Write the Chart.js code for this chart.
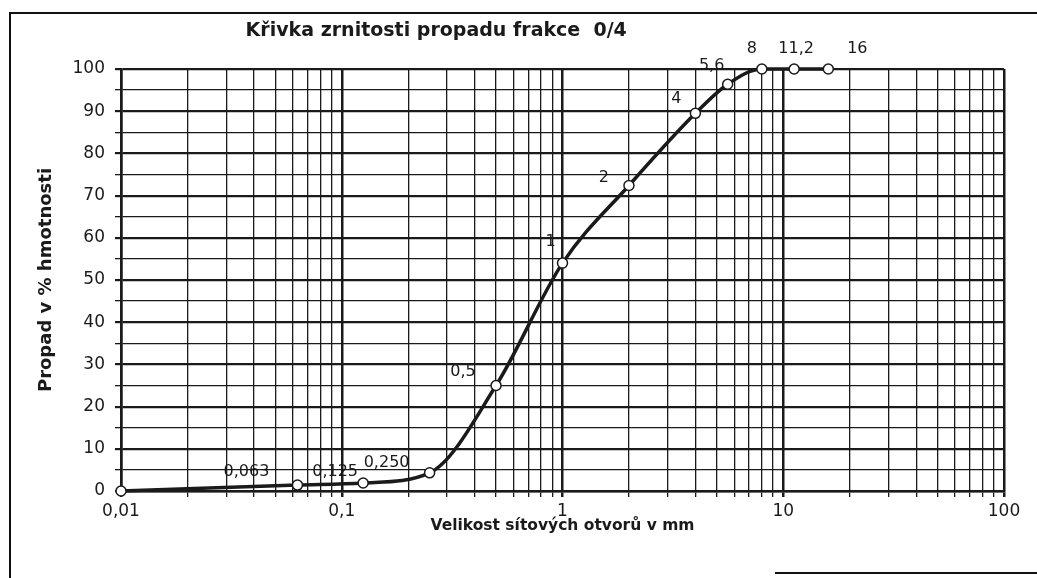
<!DOCTYPE html>
<html>
<head>
<meta charset="utf-8">
<script src="https://cdn.jsdelivr.net/npm/chart.js@4"></script>
<style>
  body { margin: 0; background: #fff; }
  #wrap { position: relative; width: 1037px; height: 578px; overflow: hidden; }
  #frame { position: absolute; left: 9px; top: 12px; width: 1040px; height: 580px; border-left: 2px solid #111; border-top: 2px solid #111; }
  #scrap { position: absolute; left: 775px; top: 572px; width: 262px; border-top: 2px solid #111; }
  canvas { position: absolute; left: 0; top: 0; }
</style>
</head>
<body>
<div id="wrap">
  <div id="frame"></div>
  <div id="scrap"></div>
  <canvas id="myChart" width="1037" height="578"></canvas>
</div>
<script>
// sieve sizes (mm) and passing percentages
const sieveSizes = [0.01, 0.063, 0.125, 0.25, 0.5, 1, 2, 4, 5.6, 8, 11.2, 16];
const passing = [0, 1.4, 1.9, 4.3, 25, 54, 72.4, 89.5, 96.4, 100, 100, 100];
const pointLabels = ["", "0,063", "0,125", "0,250", "0,5", "1", "2", "4", "5,6", "8", "11,2", "16"];
const xDecades = [0.01, 0.1, 1, 10, 100];
const xDecadeLabels = ["0,01", "0,1", "1", "10", "100"];

const fontFamily = "'DejaVu Sans', 'Liberation Sans', Arial, sans-serif";
const ink = "#1a1a1a";

// where each point label sits relative to its point (px)
const labelOffsets = [
  [0, 0], [-51, -13], [-28, -11], [-43, -10], [-33, -14], [-12, -21],
  [-25, -8], [-19, -14], [-16, -18], [-10, -20], [2, -20], [29, -20]
];

const pointLabelPlugin = {
  id: "pointLabels",
  afterDatasetsDraw(chart) {
    const ctx = chart.ctx;
    const meta = chart.getDatasetMeta(0);
    ctx.save();
    ctx.font = "16px " + fontFamily;
    ctx.fillStyle = ink;
    ctx.textAlign = "center";
    ctx.textBaseline = "middle";
    meta.data.forEach((pt, i) => {
      if (!pointLabels[i]) return;
      ctx.fillText(pointLabels[i], pt.x + labelOffsets[i][0], pt.y + labelOffsets[i][1]);
    });
    ctx.restore();
  },
};

const chartTitlePlugin = {
  id: "chartTitle",
  afterDraw(chart) {
    const ctx = chart.ctx;
    const area = chart.chartArea;
    ctx.save();
    ctx.font = "bold 19px " + fontFamily;
    ctx.fillStyle = ink;
    ctx.textAlign = "center";
    ctx.textBaseline = "middle";
    ctx.fillText("Křivka zrnitosti propadu frakce  0/4", area.left + area.width * 0.357, 31);
    ctx.restore();
  },
};

const ctx = document.getElementById("myChart");
new Chart(ctx, {
  type: "line",
  data: {
    datasets: [
      {
        label: "Propad",
        data: sieveSizes.map((s, i) => ({ x: s, y: passing[i] })),
        borderColor: ink,
        borderWidth: 3.5,
        cubicInterpolationMode: "monotone",
        pointRadius: 5,
        pointBackgroundColor: "#fff",
        pointBorderColor: ink,
        pointBorderWidth: 1.5,
        clip: false,
      },
    ],
  },
  options: {
    responsive: false,
    animation: false,
    layout: { padding: { top: 69, right: 33, left: 12, bottom: 0 } },
    plugins: {
      legend: { display: false },
      tooltip: { enabled: false },
    },
    scales: {
      x: {
        type: "logarithmic",
        min: 0.01,
        max: 100,
        afterBuildTicks: (scale) => {
          const ticks = [];
          for (let d = 0; d < xDecades.length; d++) {
            for (let m = 1; m <= 9; m++) {
              const v = xDecades[d] * m;
              if (v > 100.0001) break;
              ticks.push({ value: v, major: m === 1 });
            }
          }
          scale.ticks = ticks;
        },
        afterFit: (scale) => {
          scale.height = 87;
        },
        ticks: {
          autoSkip: false,
          maxRotation: 0,
          padding: 4,
          color: ink,
          font: { family: fontFamily, size: 17 },
          callback: (value, index, ticks) =>
            ticks[index].major ? xDecadeLabels[Math.round(Math.log10(value)) + 2] : "",
        },
        grid: {
          color: ink,
          lineWidth: (c) => (c.tick && c.tick.major ? 2.5 : 1.3),
          tickLength: 6,
        },
        border: { color: ink, width: 2.5 },
        title: {
          display: true,
          text: "Velikost sítových otvorů v mm",
          color: ink,
          font: { family: fontFamily, size: 15.5, weight: "bold" },
          padding: { top: 0, bottom: 43 },
        },
      },
      y: {
        min: 0,
        max: 100,
        afterFit: (scale) => {
          scale.width = 109;
        },
        ticks: {
          stepSize: 5,
          autoSkip: false,
          padding: 10,
          color: ink,
          font: { family: fontFamily, size: 17 },
          callback: (v) => (v % 10 === 0 ? v : ""),
        },
        grid: {
          color: ink,
          lineWidth: (c) => (c.tick && c.tick.value % 10 === 0 ? 2.2 : 1.3),
          tickLength: 6,
        },
        border: { color: ink, width: 2.5 },
        title: {
          display: true,
          text: "Propad v % hmotnosti",
          color: ink,
          font: { family: fontFamily, size: 18, weight: "bold" },
          padding: { top: 24, bottom: 0 },
        },
      },
    },
  },
  plugins: [pointLabelPlugin, chartTitlePlugin],
});
</script>
</body>
</html>
